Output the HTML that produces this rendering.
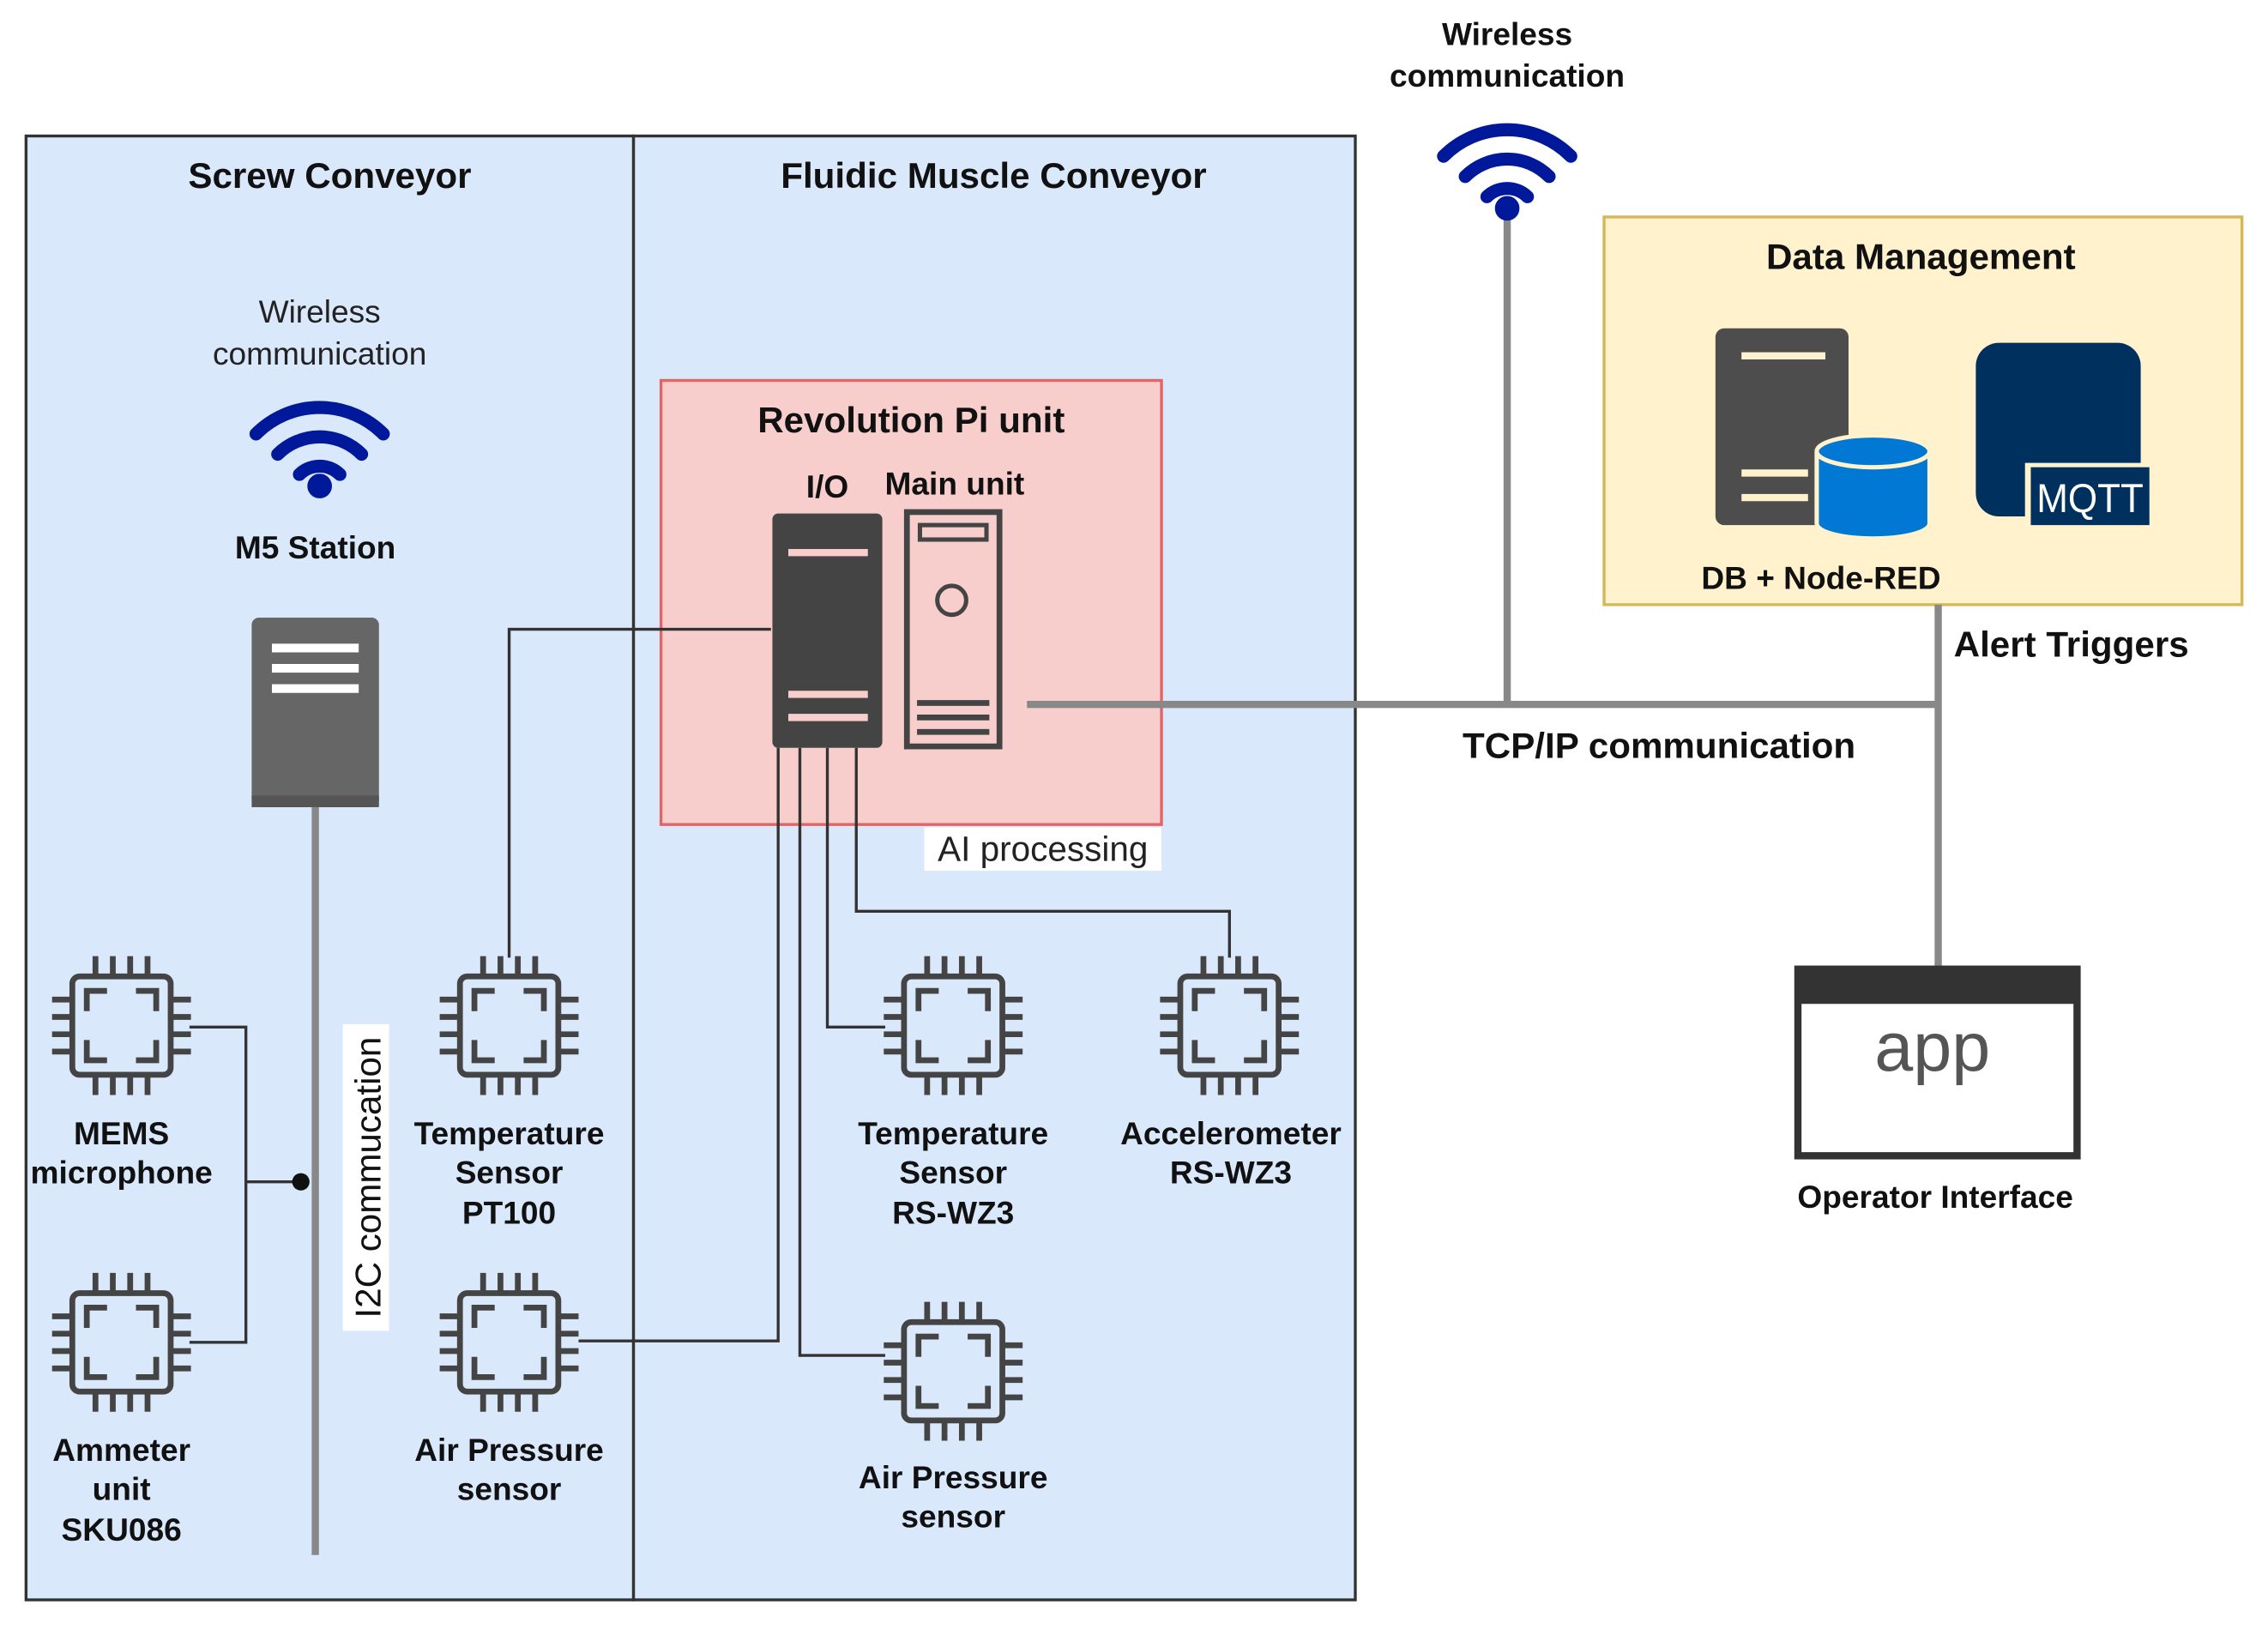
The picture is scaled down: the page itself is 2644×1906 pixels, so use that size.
<!DOCTYPE html>
<html><head><meta charset="utf-8"><style>html,body{margin:0;padding:0;background:#fff}svg{display:block}</style></head>
<body>
<svg width="2644" height="1906" viewBox="0 0 1568 1130.3" preserveAspectRatio="none" xmlns="http://www.w3.org/2000/svg" font-family="Liberation Sans, sans-serif">
<defs>
<g id="chip" fill="none" stroke="#444" stroke-width="4">
<rect x="-34" y="-34" width="68" height="68" rx="5"/>
<path d="M-24,-10V-24H-10M10,-24H24V-10M24,10V24H10M-10,24H-24V10"/>
<path d="M-18,-34v-14M-6,-34v-14M6,-34v-14M18,-34v-14M-18,34v14M-6,34v14M6,34v14M18,34v14M-34,-18h-14M-34,-6h-14M-34,6h-14M-34,18h-14M34,-18h14M34,-6h14M34,6h14M34,18h14"/>
</g>
<g id="wifi" fill="none" stroke="#00189a" stroke-width="9" stroke-linecap="round">
<path d="M-44,-26A62,62 0 0 1 44,-26"/>
<path d="M-29,-12A41,41 0 0 1 29,-12"/>
<path d="M-14,2A20,20 0 0 1 14,2"/>
<circle cx="0" cy="10" r="4" fill="#00189a"/>
</g>
</defs>
<rect x="18" y="94" width="420" height="1012" fill="#dae8fc" stroke="#333" stroke-width="2"/>
<rect x="438" y="94" width="499" height="1012" fill="#dae8fc" stroke="#333" stroke-width="2"/>
<rect x="457" y="263" width="346" height="307" fill="#f8cecc" stroke="#e06666" stroke-width="2"/>
<rect x="1109" y="150" width="441" height="268" fill="#fff2cc" stroke="#d6b656" stroke-width="2"/>
<g font-weight="bold" font-size="25" text-anchor="middle" fill="#111">
<text x="228" y="130">Screw Conveyor</text>
<text x="687" y="130">Fluidic Muscle Conveyor</text>
<text x="630" y="299">Revolution Pi unit</text>
<text x="1328" y="186">Data Management</text>
</g>
<g stroke="#888" stroke-width="5" fill="none">
<path d="M218,555V1075"/>
<path d="M710,487H1340"/>
<path d="M1042,140V487"/>
<path d="M1340,418V668"/>
</g>
<g stroke="#333" stroke-width="2" fill="none">
<path d="M533,435H352V662"/>
<path d="M538,517V927H400"/>
<path d="M553,517V937H612"/>
<path d="M572,517V710H612"/>
<path d="M592,517V630H850V662"/>
<path d="M131,710H170V928H131M170,817H208"/>
</g>
<circle cx="208" cy="817" r="6" fill="#111"/>
<use href="#chip" x="84" y="709"/><use href="#chip" x="84" y="928"/>
<use href="#chip" x="352" y="709"/><use href="#chip" x="352" y="928"/>
<use href="#chip" x="659" y="709"/><use href="#chip" x="850" y="709"/>
<use href="#chip" x="659" y="948"/>
<use href="#wifi" x="221" y="326"/>
<use href="#wifi" x="1042" y="134"/>
<rect x="174" y="427" width="88" height="131" rx="5" fill="#666"/>
<rect x="174" y="550" width="88" height="8" fill="#555"/>
<g stroke="#fff" stroke-width="6"><path d="M188,448H248M188,462H248M188,476H248"/></g>
<rect x="534" y="355" width="76" height="162" rx="4" fill="#444"/>
<g stroke="#f8cecc" stroke-width="5"><path d="M545,382H600M545,480H600M545,496H600"/></g>
<rect x="627" y="354" width="64" height="162" fill="none" stroke="#444" stroke-width="4"/>
<rect x="636" y="363" width="46" height="10" fill="none" stroke="#444" stroke-width="3"/>
<circle cx="658" cy="415" r="10" fill="none" stroke="#444" stroke-width="3"/>
<g stroke="#444" stroke-width="4"><path d="M634,486H684M634,496H684M634,506H684"/></g>
<rect x="1186" y="227" width="92" height="136" rx="6" fill="#4d4d4d"/>
<g stroke="#fff2cc" stroke-width="5"><path d="M1204,246H1262M1204,327H1250M1204,344H1250"/></g>
<path d="M1256,312V362A38,10 0 0 0 1334,362V312" fill="#0078d4" stroke="#fff2cc" stroke-width="3"/>
<ellipse cx="1295" cy="312" rx="39" ry="11" fill="#0078d4" stroke="#fff2cc" stroke-width="3"/>
<rect x="1366" y="237" width="114" height="120" rx="16" fill="#00305e"/>
<rect x="1400" y="320" width="88" height="45" fill="#fff2cc"/>
<rect x="1404" y="323" width="82" height="40" fill="#00305e"/>
<text x="1408" y="354" font-size="28" fill="#fff" textLength="74" lengthAdjust="spacingAndGlyphs">MQTT</text>
<rect x="1243" y="670" width="193" height="129" fill="#fff" stroke="#333" stroke-width="5"/>
<rect x="1243" y="670" width="193" height="24" fill="#333"/>
<text x="1336" y="740" font-size="48" fill="#555" text-anchor="middle">app</text>
<rect x="237" y="708" width="32" height="212" fill="#fff"/>
<text transform="translate(263,814) rotate(-90)" font-size="25" text-anchor="middle" fill="#111">I2C commucation</text>
<rect x="639" y="572" width="164" height="30" fill="#fff"/>
<g font-size="24" text-anchor="middle" fill="#222">
<text x="721" y="595">AI processing</text>
<text x="221" y="223" font-size="22">Wireless</text>
<text x="221" y="252" font-size="22">communication</text>
</g>
<g font-weight="bold" font-size="22" text-anchor="middle" fill="#111">
<text x="1042" y="31">Wireless</text>
<text x="1042" y="60">communication</text>
<text x="218" y="386">M5 Station</text>
<text x="572" y="344">I/O</text>
<text x="660" y="342">Main unit</text>
<text x="1259" y="407">DB + Node-RED</text>
<text x="1432" y="454" font-size="25">Alert Triggers</text>
<text x="1147" y="524" font-size="25">TCP/IP communication</text>
<text x="1338" y="835">Operator Interface</text>
<text x="84" y="791">MEMS</text><text x="84" y="818">microphone</text>
<text x="84" y="1010">Ammeter</text><text x="84" y="1037">unit</text><text x="84" y="1065">SKU086</text>
<text x="352" y="791">Temperature</text><text x="352" y="818">Sensor</text><text x="352" y="846">PT100</text>
<text x="352" y="1010">Air Pressure</text><text x="352" y="1037">sensor</text>
<text x="659" y="791">Temperature</text><text x="659" y="818">Sensor</text><text x="659" y="846">RS-WZ3</text>
<text x="851" y="791">Accelerometer</text><text x="851" y="818">RS-WZ3</text>
<text x="659" y="1029">Air Pressure</text><text x="659" y="1056">sensor</text>
</g>
</svg>
</body></html>
